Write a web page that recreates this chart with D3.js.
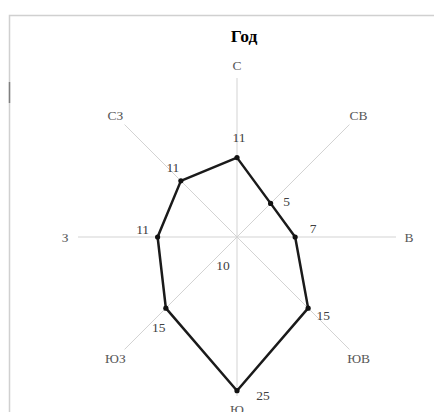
<!DOCTYPE html>
<html lang="ru">
<head>
<meta charset="utf-8">
<title>Год</title>
<script src="https://d3js.org/d3.v7.min.js"></script>
<style>
  body { margin: 0; background: #fff; }
  text { font-family: "Liberation Serif", "DejaVu Serif", serif; }
</style>
</head>
<body>
<script>
// wind directions and number of days per direction
var directions = ["С", "СВ", "В", "ЮВ", "Ю", "ЮЗ", "З", "СЗ"];
var counts = [11, 5, 7, 15, 25, 15, 11, 11];
var calm = 10;          // штиль, shown near the centre
var rMax = 26;          // outer value of the radial axis

var width = 434, height = 412;
var cx = 237, cy = 237;

// data label nudges (layout only)
var labelOffset = [[2, -20], [16, -2], [18, -9], [15, 7], [26, 5], [-7, 19], [-15, -8], [-8, -14]];

var svg = d3.select("body").append("svg")
    .attr("width", width)
    .attr("height", height);

// chart area frame
svg.append("path")
    .attr("d", "M9.5," + height + "V15.5H" + width)
    .attr("fill", "none")
    .attr("stroke", "#d0d0d0")
    .attr("stroke-width", 1.5);
svg.append("line")
    .attr("x1", 9.5).attr("x2", 9.5)
    .attr("y1", 82).attr("y2", 103)
    .attr("stroke", "#808080")
    .attr("stroke-width", 1.5);

svg.append("text")
    .attr("x", 244)
    .attr("y", 42)
    .attr("text-anchor", "middle")
    .attr("font-size", 17.5)
    .attr("font-weight", "bold")
    .attr("fill", "#000")
    .text("Год");

var angle = d3.scalePoint()
    .domain(directions)
    .range([0, 2 * Math.PI * (directions.length - 1) / directions.length]);
var r = d3.scaleLinear().domain([0, rMax]).range([21, 159]);

var g = svg.append("g").attr("transform", "translate(" + cx + "," + cy + ")");

function px(a, rad) { return rad * Math.sin(a); }
function py(a, rad) { return -rad * Math.cos(a); }

// spokes
g.selectAll(".spoke")
    .data(directions)
    .enter().append("line")
    .attr("class", "spoke")
    .attr("x1", 0).attr("y1", 0)
    .attr("x2", function(d) { return px(angle(d), r(rMax)); })
    .attr("y2", function(d) { return py(angle(d), r(rMax)); })
    .attr("stroke", "#d3d3d3")
    .attr("stroke-width", 1);

// direction labels
g.selectAll(".dir")
    .data(directions)
    .enter().append("text")
    .attr("class", "dir")
    .attr("x", function(d) { return px(angle(d), 172); })
    .attr("y", function(d) { return py(angle(d), 172); })
    .attr("dy", "0.35em")
    .attr("text-anchor", "middle")
    .attr("font-size", 13.5)
    .attr("fill", "#595959")
    .text(function(d) { return d; });

var pts = directions.map(function(d, i) {
    return [px(angle(d), r(counts[i])), py(angle(d), r(counts[i]))];
});

g.append("path")
    .datum(pts)
    .attr("d", d3.line().curve(d3.curveLinearClosed))
    .attr("fill", "none")
    .attr("stroke", "#1a1a1a")
    .attr("stroke-width", 2.5)
    .attr("stroke-linejoin", "round");

g.selectAll(".pt")
    .data(pts)
    .enter().append("circle")
    .attr("class", "pt")
    .attr("cx", function(d) { return d[0]; })
    .attr("cy", function(d) { return d[1]; })
    .attr("r", 2.6)
    .attr("fill", "#111");

g.selectAll(".val")
    .data(counts)
    .enter().append("text")
    .attr("class", "val")
    .attr("x", function(d, i) { return pts[i][0] + labelOffset[i][0]; })
    .attr("y", function(d, i) { return pts[i][1] + labelOffset[i][1]; })
    .attr("dy", "0.35em")
    .attr("text-anchor", "middle")
    .attr("font-size", 13.5)
    .attr("fill", "#404040")
    .text(function(d) { return d; });

g.append("text")
    .attr("x", -14)
    .attr("y", 28)
    .attr("dy", "0.35em")
    .attr("text-anchor", "middle")
    .attr("font-size", 13.5)
    .attr("fill", "#404040")
    .text(calm);
</script>
</body>
</html>
